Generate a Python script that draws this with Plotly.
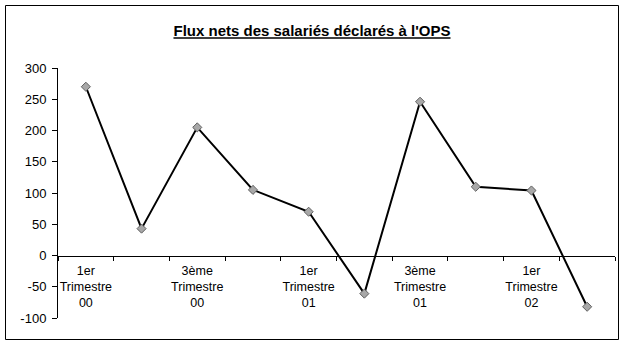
import plotly.graph_objects as go

categories = ["1er Trimestre 00", "2ème Trimestre 00", "3ème Trimestre 00", "4ème Trimestre 00",
              "1er Trimestre 01", "2ème Trimestre 01", "3ème Trimestre 01", "4ème Trimestre 01",
              "1er Trimestre 02", "2ème Trimestre 02"]
x_tick_text = ["1er<br>Trimestre<br>00", "", "3ème<br>Trimestre<br>00", "",
               "1er<br>Trimestre<br>01", "", "3ème<br>Trimestre<br>01", "",
               "1er<br>Trimestre<br>02", ""]
values = [270, 43, 205, 105, 70, -61, 246, 110, 104, -82]
y_tick_vals = [-100, -50, 0, 50, 100, 150, 200, 250, 300]
y_tick_text = ["-100", "-50", "0", "50", "100", "150", "200", "250", "300"]
title = "Flux nets des salariés déclarés à l'OPS"

W, H = 624, 345
ML, MR, MT, MB = 58, 9, 68, 27
pw, ph = W - ML - MR, H - MT - MB

fig = go.Figure()
fig.add_trace(go.Scatter(
    x=categories, y=values, mode="lines+markers",
    line=dict(color="black", width=2),
    marker=dict(symbol="diamond", size=7, color="#a8a8a8", line=dict(color="#606060", width=1)),
    showlegend=False,
))

fig.update_layout(
    width=W, height=H,
    margin=dict(l=ML, r=MR, t=MT, b=MB),
    paper_bgcolor="white", plot_bgcolor="white",
    font=dict(family="Liberation Sans, Arial, sans-serif", size=12, color="black"),
    title=dict(text="<b><u>" + title + "</u></b>", x=0.5, xanchor="center",
               y=1 - 31 / H, yanchor="middle", font=dict(size=15, color="black")),
    xaxis=dict(type="category", categoryorder="array", categoryarray=categories,
               tickvals=categories, ticktext=x_tick_text, tickson="boundaries",
               tickangle=0,
               ticks="outside", ticklen=4, tickcolor="black", showline=True,
               linecolor="black", linewidth=1, showgrid=False, zeroline=False,
               anchor="free", position=0.25, range=[-0.5, 9.5],
               tickfont=dict(size=12.5), ticklabelstandoff=3),
    yaxis=dict(range=[-100, 300], tickvals=y_tick_vals, ticktext=y_tick_text,
               ticks="outside", ticklen=5, tickcolor="black", showline=True,
               linecolor="black", linewidth=1, showgrid=False, zeroline=False,
               tickfont=dict(size=13), ticklabelstandoff=3),
)

fig.add_shape(type="rect", xref="paper", yref="paper",
              x0=(5.5 - ML) / pw, x1=(618.5 - ML) / pw,
              y0=(H - MB - 339.5) / ph, y1=(H - MB - 5.5) / ph,
              line=dict(color="black", width=1), fillcolor="rgba(0,0,0,0)", layer="below")

fig.write_html("out.html")
